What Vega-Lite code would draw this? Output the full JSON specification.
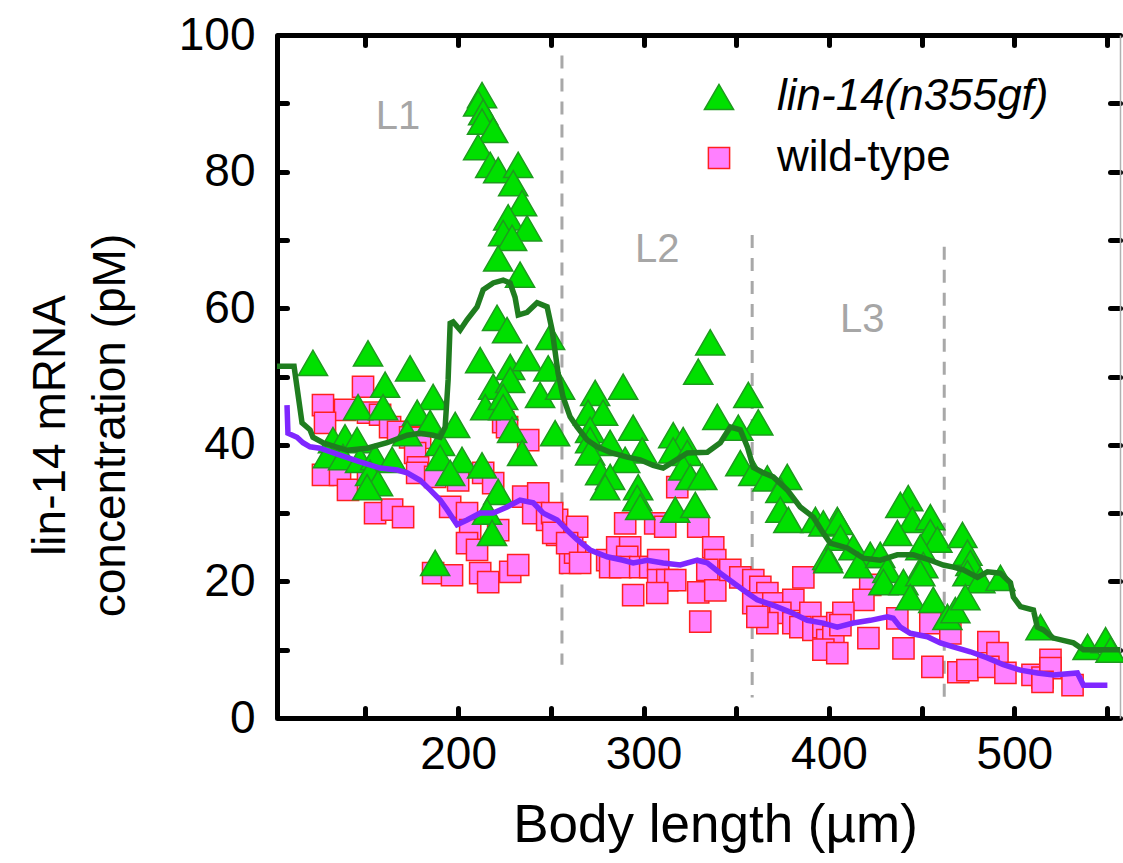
{
  "$schema": "https://vega.github.io/schema/vega-lite/v6.json",
  "width": 843,
  "height": 683,
  "autosize": "none",
  "padding": {"left": 277, "top": 35, "right": 3, "bottom": 145},
  "background": "white",
  "config": {
    "font": "Liberation Sans",
    "view": {"stroke": null}
  },
  "datasets": {
    "pts": [
      {"x": 148.7, "y": 48.5, "strain": "wild-type"},
      {"x": 127.1, "y": 45.8, "strain": "wild-type"},
      {"x": 139.0, "y": 45.1, "strain": "wild-type"},
      {"x": 128.2, "y": 43.2, "strain": "wild-type"},
      {"x": 151.4, "y": 44.7, "strain": "wild-type"},
      {"x": 157.9, "y": 44.4, "strain": "wild-type"},
      {"x": 163.3, "y": 42.6, "strain": "wild-type"},
      {"x": 167.6, "y": 41.9, "strain": "wild-type"},
      {"x": 174.1, "y": 41.1, "strain": "wild-type"},
      {"x": 179.5, "y": 41.0, "strain": "wild-type"},
      {"x": 176.8, "y": 38.8, "strain": "wild-type"},
      {"x": 127.1, "y": 35.6, "strain": "wild-type"},
      {"x": 136.3, "y": 35.6, "strain": "wild-type"},
      {"x": 140.6, "y": 33.4, "strain": "wild-type"},
      {"x": 151.4, "y": 34.6, "strain": "wild-type"},
      {"x": 155.2, "y": 30.0, "strain": "wild-type"},
      {"x": 164.4, "y": 30.5, "strain": "wild-type"},
      {"x": 170.3, "y": 29.4, "strain": "wild-type"},
      {"x": 178.4, "y": 36.7, "strain": "wild-type"},
      {"x": 177.9, "y": 35.9, "strain": "wild-type"},
      {"x": 187.6, "y": 35.3, "strain": "wild-type"},
      {"x": 200.0, "y": 34.8, "strain": "wild-type"},
      {"x": 213.5, "y": 35.9, "strain": "wild-type"},
      {"x": 218.9, "y": 34.4, "strain": "wild-type"},
      {"x": 195.7, "y": 30.9, "strain": "wild-type"},
      {"x": 204.8, "y": 30.0, "strain": "wild-type"},
      {"x": 206.5, "y": 27.5, "strain": "wild-type"},
      {"x": 204.8, "y": 25.6, "strain": "wild-type"},
      {"x": 210.2, "y": 24.6, "strain": "wild-type"},
      {"x": 221.6, "y": 27.5, "strain": "wild-type"},
      {"x": 186.5, "y": 21.2, "strain": "wild-type"},
      {"x": 196.7, "y": 20.9, "strain": "wild-type"},
      {"x": 211.9, "y": 21.2, "strain": "wild-type"},
      {"x": 216.2, "y": 19.9, "strain": "wild-type"},
      {"x": 228.1, "y": 21.4, "strain": "wild-type"},
      {"x": 232.4, "y": 22.4, "strain": "wild-type"},
      {"x": 224.3, "y": 43.3, "strain": "wild-type"},
      {"x": 226.4, "y": 42.6, "strain": "wild-type"},
      {"x": 237.8, "y": 40.7, "strain": "wild-type"},
      {"x": 235.1, "y": 32.4, "strain": "wild-type"},
      {"x": 243.2, "y": 32.9, "strain": "wild-type"},
      {"x": 240.5, "y": 30.0, "strain": "wild-type"},
      {"x": 248.0, "y": 29.0, "strain": "wild-type"},
      {"x": 253.4, "y": 29.0, "strain": "wild-type"},
      {"x": 253.4, "y": 26.8, "strain": "wild-type"},
      {"x": 261.5, "y": 25.6, "strain": "wild-type"},
      {"x": 260.4, "y": 22.7, "strain": "wild-type"},
      {"x": 263.1, "y": 24.2, "strain": "wild-type"},
      {"x": 250.7, "y": 30.0, "strain": "wild-type"},
      {"x": 264.2, "y": 28.0, "strain": "wild-type"},
      {"x": 251.3, "y": 27.1, "strain": "wild-type"},
      {"x": 258.8, "y": 25.6, "strain": "wild-type"},
      {"x": 265.8, "y": 22.7, "strain": "wild-type"},
      {"x": 280.4, "y": 23.1, "strain": "wild-type"},
      {"x": 285.8, "y": 25.0, "strain": "wild-type"},
      {"x": 292.8, "y": 25.0, "strain": "wild-type"},
      {"x": 291.2, "y": 23.6, "strain": "wild-type"},
      {"x": 282.0, "y": 22.1, "strain": "wild-type"},
      {"x": 287.4, "y": 22.1, "strain": "wild-type"},
      {"x": 298.2, "y": 22.1, "strain": "wild-type"},
      {"x": 303.6, "y": 22.1, "strain": "wild-type"},
      {"x": 307.9, "y": 23.1, "strain": "wild-type"},
      {"x": 290.1, "y": 28.5, "strain": "wild-type"},
      {"x": 306.3, "y": 28.5, "strain": "wild-type"},
      {"x": 311.7, "y": 28.0, "strain": "wild-type"},
      {"x": 318.2, "y": 33.8, "strain": "wild-type"},
      {"x": 329.5, "y": 28.0, "strain": "wild-type"},
      {"x": 337.6, "y": 25.0, "strain": "wild-type"},
      {"x": 338.7, "y": 23.1, "strain": "wild-type"},
      {"x": 334.4, "y": 21.7, "strain": "wild-type"},
      {"x": 307.9, "y": 20.2, "strain": "wild-type"},
      {"x": 312.8, "y": 20.2, "strain": "wild-type"},
      {"x": 317.1, "y": 20.2, "strain": "wild-type"},
      {"x": 307.4, "y": 18.3, "strain": "wild-type"},
      {"x": 294.4, "y": 18.0, "strain": "wild-type"},
      {"x": 329.5, "y": 18.4, "strain": "wild-type"},
      {"x": 338.7, "y": 18.7, "strain": "wild-type"},
      {"x": 330.6, "y": 14.1, "strain": "wild-type"},
      {"x": 346.8, "y": 21.7, "strain": "wild-type"},
      {"x": 352.2, "y": 20.6, "strain": "wild-type"},
      {"x": 359.2, "y": 20.2, "strain": "wild-type"},
      {"x": 363.0, "y": 19.2, "strain": "wild-type"},
      {"x": 366.8, "y": 18.3, "strain": "wild-type"},
      {"x": 359.2, "y": 16.8, "strain": "wild-type"},
      {"x": 370.0, "y": 16.8, "strain": "wild-type"},
      {"x": 386.2, "y": 20.6, "strain": "wild-type"},
      {"x": 380.8, "y": 17.3, "strain": "wild-type"},
      {"x": 373.8, "y": 15.4, "strain": "wild-type"},
      {"x": 366.8, "y": 13.9, "strain": "wild-type"},
      {"x": 361.4, "y": 14.8, "strain": "wild-type"},
      {"x": 380.8, "y": 13.9, "strain": "wild-type"},
      {"x": 390.0, "y": 15.4, "strain": "wild-type"},
      {"x": 384.6, "y": 13.3, "strain": "wild-type"},
      {"x": 391.6, "y": 12.9, "strain": "wild-type"},
      {"x": 397.0, "y": 13.3, "strain": "wild-type"},
      {"x": 399.1, "y": 11.4, "strain": "wild-type"},
      {"x": 404.5, "y": 13.9, "strain": "wild-type"},
      {"x": 402.4, "y": 11.9, "strain": "wild-type"},
      {"x": 397.0, "y": 10.0, "strain": "wild-type"},
      {"x": 404.5, "y": 9.5, "strain": "wild-type"},
      {"x": 422.3, "y": 19.5, "strain": "wild-type"},
      {"x": 418.6, "y": 17.3, "strain": "wild-type"},
      {"x": 407.8, "y": 15.4, "strain": "wild-type"},
      {"x": 406.2, "y": 13.6, "strain": "wild-type"},
      {"x": 421.3, "y": 11.7, "strain": "wild-type"},
      {"x": 436.9, "y": 14.6, "strain": "wild-type"},
      {"x": 440.2, "y": 10.2, "strain": "wild-type"},
      {"x": 454.7, "y": 13.9, "strain": "wild-type"},
      {"x": 465.5, "y": 12.4, "strain": "wild-type"},
      {"x": 455.8, "y": 7.5, "strain": "wild-type"},
      {"x": 469.8, "y": 6.7, "strain": "wild-type"},
      {"x": 474.7, "y": 7.0, "strain": "wild-type"},
      {"x": 486.0, "y": 11.1, "strain": "wild-type"},
      {"x": 490.9, "y": 9.5, "strain": "wild-type"},
      {"x": 486.0, "y": 7.5, "strain": "wild-type"},
      {"x": 495.2, "y": 6.6, "strain": "wild-type"},
      {"x": 509.8, "y": 6.3, "strain": "wild-type"},
      {"x": 515.2, "y": 5.9, "strain": "wild-type"},
      {"x": 519.5, "y": 8.5, "strain": "wild-type"},
      {"x": 519.5, "y": 7.3, "strain": "wild-type"},
      {"x": 515.2, "y": 5.3, "strain": "wild-type"},
      {"x": 531.4, "y": 4.8, "strain": "wild-type"},
      {"x": 212.9, "y": 91.2, "strain": "lin-14(n355gf)"},
      {"x": 210.8, "y": 90.0, "strain": "lin-14(n355gf)"},
      {"x": 213.5, "y": 88.7, "strain": "lin-14(n355gf)"},
      {"x": 212.9, "y": 87.3, "strain": "lin-14(n355gf)"},
      {"x": 218.9, "y": 86.1, "strain": "lin-14(n355gf)"},
      {"x": 210.8, "y": 83.6, "strain": "lin-14(n355gf)"},
      {"x": 217.3, "y": 81.0, "strain": "lin-14(n355gf)"},
      {"x": 221.6, "y": 80.2, "strain": "lin-14(n355gf)"},
      {"x": 232.4, "y": 81.0, "strain": "lin-14(n355gf)"},
      {"x": 229.7, "y": 78.3, "strain": "lin-14(n355gf)"},
      {"x": 234.5, "y": 75.4, "strain": "lin-14(n355gf)"},
      {"x": 227.0, "y": 73.3, "strain": "lin-14(n355gf)"},
      {"x": 237.2, "y": 71.7, "strain": "lin-14(n355gf)"},
      {"x": 224.3, "y": 71.0, "strain": "lin-14(n355gf)"},
      {"x": 229.1, "y": 70.3, "strain": "lin-14(n355gf)"},
      {"x": 221.6, "y": 67.3, "strain": "lin-14(n355gf)"},
      {"x": 233.4, "y": 64.9, "strain": "lin-14(n355gf)"},
      {"x": 121.7, "y": 52.0, "strain": "lin-14(n355gf)"},
      {"x": 151.4, "y": 53.4, "strain": "lin-14(n355gf)"},
      {"x": 174.1, "y": 51.2, "strain": "lin-14(n355gf)"},
      {"x": 160.6, "y": 48.8, "strain": "lin-14(n355gf)"},
      {"x": 146.0, "y": 45.5, "strain": "lin-14(n355gf)"},
      {"x": 159.5, "y": 45.5, "strain": "lin-14(n355gf)"},
      {"x": 186.5, "y": 47.0, "strain": "lin-14(n355gf)"},
      {"x": 177.9, "y": 44.7, "strain": "lin-14(n355gf)"},
      {"x": 184.9, "y": 43.2, "strain": "lin-14(n355gf)"},
      {"x": 132.5, "y": 40.7, "strain": "lin-14(n355gf)"},
      {"x": 139.0, "y": 41.1, "strain": "lin-14(n355gf)"},
      {"x": 145.5, "y": 40.7, "strain": "lin-14(n355gf)"},
      {"x": 129.8, "y": 38.5, "strain": "lin-14(n355gf)"},
      {"x": 137.9, "y": 38.2, "strain": "lin-14(n355gf)"},
      {"x": 147.1, "y": 37.8, "strain": "lin-14(n355gf)"},
      {"x": 155.2, "y": 38.2, "strain": "lin-14(n355gf)"},
      {"x": 164.4, "y": 37.8, "strain": "lin-14(n355gf)"},
      {"x": 152.5, "y": 35.9, "strain": "lin-14(n355gf)"},
      {"x": 156.8, "y": 34.4, "strain": "lin-14(n355gf)"},
      {"x": 150.9, "y": 33.8, "strain": "lin-14(n355gf)"},
      {"x": 172.5, "y": 41.7, "strain": "lin-14(n355gf)"},
      {"x": 190.3, "y": 40.3, "strain": "lin-14(n355gf)"},
      {"x": 198.4, "y": 42.9, "strain": "lin-14(n355gf)"},
      {"x": 190.3, "y": 38.1, "strain": "lin-14(n355gf)"},
      {"x": 202.1, "y": 37.8, "strain": "lin-14(n355gf)"},
      {"x": 195.7, "y": 35.9, "strain": "lin-14(n355gf)"},
      {"x": 212.9, "y": 37.0, "strain": "lin-14(n355gf)"},
      {"x": 221.6, "y": 33.1, "strain": "lin-14(n355gf)"},
      {"x": 215.6, "y": 30.2, "strain": "lin-14(n355gf)"},
      {"x": 218.3, "y": 27.1, "strain": "lin-14(n355gf)"},
      {"x": 187.6, "y": 22.7, "strain": "lin-14(n355gf)"},
      {"x": 221.0, "y": 58.6, "strain": "lin-14(n355gf)"},
      {"x": 226.4, "y": 56.8, "strain": "lin-14(n355gf)"},
      {"x": 211.9, "y": 52.4, "strain": "lin-14(n355gf)"},
      {"x": 228.1, "y": 51.4, "strain": "lin-14(n355gf)"},
      {"x": 237.2, "y": 52.7, "strain": "lin-14(n355gf)"},
      {"x": 248.6, "y": 51.2, "strain": "lin-14(n355gf)"},
      {"x": 218.9, "y": 48.5, "strain": "lin-14(n355gf)"},
      {"x": 228.1, "y": 49.5, "strain": "lin-14(n355gf)"},
      {"x": 214.6, "y": 45.5, "strain": "lin-14(n355gf)"},
      {"x": 224.3, "y": 47.0, "strain": "lin-14(n355gf)"},
      {"x": 224.3, "y": 45.5, "strain": "lin-14(n355gf)"},
      {"x": 244.2, "y": 47.3, "strain": "lin-14(n355gf)"},
      {"x": 255.0, "y": 48.5, "strain": "lin-14(n355gf)"},
      {"x": 249.6, "y": 55.8, "strain": "lin-14(n355gf)"},
      {"x": 229.1, "y": 42.2, "strain": "lin-14(n355gf)"},
      {"x": 234.5, "y": 38.8, "strain": "lin-14(n355gf)"},
      {"x": 252.3, "y": 41.7, "strain": "lin-14(n355gf)"},
      {"x": 273.9, "y": 47.6, "strain": "lin-14(n355gf)"},
      {"x": 270.1, "y": 44.7, "strain": "lin-14(n355gf)"},
      {"x": 278.2, "y": 44.7, "strain": "lin-14(n355gf)"},
      {"x": 289.0, "y": 48.5, "strain": "lin-14(n355gf)"},
      {"x": 271.2, "y": 42.2, "strain": "lin-14(n355gf)"},
      {"x": 271.2, "y": 40.7, "strain": "lin-14(n355gf)"},
      {"x": 282.0, "y": 40.3, "strain": "lin-14(n355gf)"},
      {"x": 271.2, "y": 38.9, "strain": "lin-14(n355gf)"},
      {"x": 294.4, "y": 42.5, "strain": "lin-14(n355gf)"},
      {"x": 299.3, "y": 39.2, "strain": "lin-14(n355gf)"},
      {"x": 290.1, "y": 37.8, "strain": "lin-14(n355gf)"},
      {"x": 276.6, "y": 36.0, "strain": "lin-14(n355gf)"},
      {"x": 282.0, "y": 35.3, "strain": "lin-14(n355gf)"},
      {"x": 279.3, "y": 33.8, "strain": "lin-14(n355gf)"},
      {"x": 297.1, "y": 33.8, "strain": "lin-14(n355gf)"},
      {"x": 296.6, "y": 32.2, "strain": "lin-14(n355gf)"},
      {"x": 298.2, "y": 30.9, "strain": "lin-14(n355gf)"},
      {"x": 316.0, "y": 41.4, "strain": "lin-14(n355gf)"},
      {"x": 321.4, "y": 40.7, "strain": "lin-14(n355gf)"},
      {"x": 316.0, "y": 39.2, "strain": "lin-14(n355gf)"},
      {"x": 323.6, "y": 38.8, "strain": "lin-14(n355gf)"},
      {"x": 321.4, "y": 36.7, "strain": "lin-14(n355gf)"},
      {"x": 325.2, "y": 35.3, "strain": "lin-14(n355gf)"},
      {"x": 331.7, "y": 35.3, "strain": "lin-14(n355gf)"},
      {"x": 317.1, "y": 30.5, "strain": "lin-14(n355gf)"},
      {"x": 327.9, "y": 31.2, "strain": "lin-14(n355gf)"},
      {"x": 336.0, "y": 55.0, "strain": "lin-14(n355gf)"},
      {"x": 329.5, "y": 50.7, "strain": "lin-14(n355gf)"},
      {"x": 356.5, "y": 47.3, "strain": "lin-14(n355gf)"},
      {"x": 361.9, "y": 43.3, "strain": "lin-14(n355gf)"},
      {"x": 339.8, "y": 44.1, "strain": "lin-14(n355gf)"},
      {"x": 351.1, "y": 42.5, "strain": "lin-14(n355gf)"},
      {"x": 352.2, "y": 37.3, "strain": "lin-14(n355gf)"},
      {"x": 359.2, "y": 35.9, "strain": "lin-14(n355gf)"},
      {"x": 366.8, "y": 35.1, "strain": "lin-14(n355gf)"},
      {"x": 377.5, "y": 35.3, "strain": "lin-14(n355gf)"},
      {"x": 373.8, "y": 33.4, "strain": "lin-14(n355gf)"},
      {"x": 373.8, "y": 30.5, "strain": "lin-14(n355gf)"},
      {"x": 378.1, "y": 29.0, "strain": "lin-14(n355gf)"},
      {"x": 392.7, "y": 29.0, "strain": "lin-14(n355gf)"},
      {"x": 404.5, "y": 29.0, "strain": "lin-14(n355gf)"},
      {"x": 399.1, "y": 23.6, "strain": "lin-14(n355gf)"},
      {"x": 397.0, "y": 28.5, "strain": "lin-14(n355gf)"},
      {"x": 405.1, "y": 28.7, "strain": "lin-14(n355gf)"},
      {"x": 406.2, "y": 26.4, "strain": "lin-14(n355gf)"},
      {"x": 399.7, "y": 23.1, "strain": "lin-14(n355gf)"},
      {"x": 413.2, "y": 25.0, "strain": "lin-14(n355gf)"},
      {"x": 422.3, "y": 23.9, "strain": "lin-14(n355gf)"},
      {"x": 415.9, "y": 22.4, "strain": "lin-14(n355gf)"},
      {"x": 427.7, "y": 23.9, "strain": "lin-14(n355gf)"},
      {"x": 442.8, "y": 32.2, "strain": "lin-14(n355gf)"},
      {"x": 438.5, "y": 31.2, "strain": "lin-14(n355gf)"},
      {"x": 445.0, "y": 29.0, "strain": "lin-14(n355gf)"},
      {"x": 436.9, "y": 27.1, "strain": "lin-14(n355gf)"},
      {"x": 454.7, "y": 29.4, "strain": "lin-14(n355gf)"},
      {"x": 454.7, "y": 27.2, "strain": "lin-14(n355gf)"},
      {"x": 458.5, "y": 26.1, "strain": "lin-14(n355gf)"},
      {"x": 449.3, "y": 25.0, "strain": "lin-14(n355gf)"},
      {"x": 431.5, "y": 21.7, "strain": "lin-14(n355gf)"},
      {"x": 429.4, "y": 19.9, "strain": "lin-14(n355gf)"},
      {"x": 440.2, "y": 19.9, "strain": "lin-14(n355gf)"},
      {"x": 450.9, "y": 22.4, "strain": "lin-14(n355gf)"},
      {"x": 449.3, "y": 21.2, "strain": "lin-14(n355gf)"},
      {"x": 443.9, "y": 17.7, "strain": "lin-14(n355gf)"},
      {"x": 456.3, "y": 17.3, "strain": "lin-14(n355gf)"},
      {"x": 463.9, "y": 14.8, "strain": "lin-14(n355gf)"},
      {"x": 468.2, "y": 15.8, "strain": "lin-14(n355gf)"},
      {"x": 472.0, "y": 26.8, "strain": "lin-14(n355gf)"},
      {"x": 474.7, "y": 24.2, "strain": "lin-14(n355gf)"},
      {"x": 476.3, "y": 22.7, "strain": "lin-14(n355gf)"},
      {"x": 474.7, "y": 21.2, "strain": "lin-14(n355gf)"},
      {"x": 481.7, "y": 20.2, "strain": "lin-14(n355gf)"},
      {"x": 492.5, "y": 20.5, "strain": "lin-14(n355gf)"},
      {"x": 473.6, "y": 17.7, "strain": "lin-14(n355gf)"},
      {"x": 514.1, "y": 13.3, "strain": "lin-14(n355gf)"},
      {"x": 539.5, "y": 10.4, "strain": "lin-14(n355gf)"},
      {"x": 549.2, "y": 11.4, "strain": "lin-14(n355gf)"},
      {"x": 551.9, "y": 10.0, "strain": "lin-14(n355gf)"}
    ],
    "gline": [
      {"x": 102.3, "y": 51.5}, {"x": 111.5, "y": 51.5}, {"x": 115.8, "y": 43.2}, {"x": 120.1, "y": 42.2},
      {"x": 121.7, "y": 41.1}, {"x": 127.1, "y": 40.3}, {"x": 140.1, "y": 39.2}, {"x": 150.9, "y": 39.5},
      {"x": 161.7, "y": 40.3}, {"x": 172.5, "y": 41.4}, {"x": 179.5, "y": 41.7}, {"x": 186.5, "y": 41.4},
      {"x": 190.3, "y": 41.1}, {"x": 193.0, "y": 42.6}, {"x": 194.6, "y": 49.5}, {"x": 195.7, "y": 57.8},
      {"x": 197.3, "y": 58.0}, {"x": 201.1, "y": 56.8}, {"x": 204.8, "y": 58.3}, {"x": 210.2, "y": 60.2},
      {"x": 213.5, "y": 62.7}, {"x": 218.9, "y": 63.7}, {"x": 224.3, "y": 64.1}, {"x": 228.0, "y": 63.7},
      {"x": 230.7, "y": 61.6}, {"x": 232.4, "y": 59.0}, {"x": 237.2, "y": 59.4}, {"x": 242.6, "y": 60.8},
      {"x": 248.0, "y": 60.2}, {"x": 250.7, "y": 56.8}, {"x": 253.9, "y": 50.5}, {"x": 256.6, "y": 47.0},
      {"x": 260.4, "y": 44.1}, {"x": 264.2, "y": 42.6}, {"x": 269.6, "y": 40.7}, {"x": 275.0, "y": 39.7},
      {"x": 282.0, "y": 38.9}, {"x": 291.2, "y": 38.2}, {"x": 298.2, "y": 37.8}, {"x": 305.2, "y": 37.0},
      {"x": 310.6, "y": 36.6}, {"x": 316.0, "y": 37.5}, {"x": 323.6, "y": 38.8}, {"x": 334.4, "y": 38.9},
      {"x": 341.4, "y": 40.3}, {"x": 346.8, "y": 42.6}, {"x": 352.2, "y": 42.2}, {"x": 356.0, "y": 39.7},
      {"x": 359.2, "y": 36.7}, {"x": 364.6, "y": 35.9}, {"x": 370.0, "y": 35.3}, {"x": 377.5, "y": 33.4},
      {"x": 384.5, "y": 30.9}, {"x": 391.6, "y": 29.4}, {"x": 396.9, "y": 27.1}, {"x": 400.7, "y": 25.6},
      {"x": 409.9, "y": 24.9}, {"x": 418.5, "y": 23.4}, {"x": 427.7, "y": 23.1}, {"x": 436.9, "y": 23.9},
      {"x": 445.5, "y": 23.9}, {"x": 454.7, "y": 23.1}, {"x": 461.7, "y": 22.4}, {"x": 467.1, "y": 22.1},
      {"x": 472.5, "y": 21.7}, {"x": 480.1, "y": 20.6}, {"x": 485.5, "y": 21.4}, {"x": 492.5, "y": 21.2},
      {"x": 497.9, "y": 19.8}, {"x": 499.5, "y": 17.7}, {"x": 503.3, "y": 16.3}, {"x": 510.3, "y": 15.8},
      {"x": 512.4, "y": 13.3}, {"x": 515.7, "y": 12.9}, {"x": 521.1, "y": 11.7}, {"x": 531.9, "y": 11.0},
      {"x": 537.3, "y": 10.0}, {"x": 544.8, "y": 10.0}, {"x": 557.0, "y": 10.0}
    ],
    "pline": [
      {"x": 107.7, "y": 45.8}, {"x": 108.2, "y": 41.7}, {"x": 113.1, "y": 41.1}, {"x": 116.3, "y": 40.3},
      {"x": 120.1, "y": 39.7}, {"x": 125.5, "y": 39.5}, {"x": 136.3, "y": 38.5}, {"x": 147.1, "y": 37.5},
      {"x": 157.9, "y": 36.6}, {"x": 167.1, "y": 36.3}, {"x": 172.5, "y": 35.9}, {"x": 179.5, "y": 34.8},
      {"x": 184.9, "y": 33.4}, {"x": 190.3, "y": 31.9}, {"x": 194.0, "y": 30.5}, {"x": 199.4, "y": 28.3},
      {"x": 204.8, "y": 29.0}, {"x": 211.9, "y": 30.0}, {"x": 218.9, "y": 30.0}, {"x": 226.4, "y": 30.9},
      {"x": 233.4, "y": 31.9}, {"x": 240.5, "y": 31.5}, {"x": 245.9, "y": 30.0}, {"x": 253.4, "y": 29.0},
      {"x": 258.8, "y": 27.5}, {"x": 264.2, "y": 26.1}, {"x": 271.2, "y": 24.6}, {"x": 280.4, "y": 23.6},
      {"x": 289.0, "y": 23.1}, {"x": 294.4, "y": 22.7}, {"x": 302.0, "y": 23.1}, {"x": 310.6, "y": 22.7},
      {"x": 319.8, "y": 22.4}, {"x": 329.0, "y": 23.1}, {"x": 334.4, "y": 22.7}, {"x": 341.4, "y": 21.2},
      {"x": 348.4, "y": 19.8}, {"x": 356.0, "y": 18.3}, {"x": 361.3, "y": 17.3}, {"x": 370.0, "y": 16.5},
      {"x": 379.1, "y": 15.5}, {"x": 388.3, "y": 14.3}, {"x": 396.9, "y": 13.9}, {"x": 404.5, "y": 13.3},
      {"x": 413.1, "y": 13.9}, {"x": 422.3, "y": 14.3}, {"x": 431.5, "y": 14.8}, {"x": 434.7, "y": 14.6},
      {"x": 438.5, "y": 13.3}, {"x": 443.9, "y": 12.4}, {"x": 453.1, "y": 11.9}, {"x": 460.1, "y": 11.0},
      {"x": 467.1, "y": 10.4}, {"x": 476.3, "y": 9.7}, {"x": 485.5, "y": 8.8}, {"x": 494.1, "y": 7.8},
      {"x": 503.3, "y": 7.0}, {"x": 512.4, "y": 6.6}, {"x": 521.1, "y": 6.3}, {"x": 534.0, "y": 6.6},
      {"x": 537.3, "y": 4.8}, {"x": 550.2, "y": 4.8}
    ],
    "rules": [
      {"x": 256.0, "y": 97.0, "y2": 7.8},
      {"x": 358.6, "y": 70.7, "y2": 3.0},
      {"x": 462.2, "y": 69.0, "y2": 2.8}
    ],
    "stages": [
      {"x": 167.6, "y": 88.0, "label": "L1"},
      {"x": 307.4, "y": 68.5, "label": "L2"},
      {"x": 418.0, "y": 58.3, "label": "L3"}
    ]
  },
  "resolve": {"axis": {"x": "independent", "y": "independent"}},
  "layer": [
    {
      "data": {"name": "rules"},
      "mark": {"type": "rule", "color": "#a8a8a8", "strokeWidth": 3, "strokeDash": [13, 10]},
      "encoding": {
        "x": {"field": "x", "type": "quantitative", "scale": {"domain": [102.3, 557], "nice": false, "zero": false},
          "axis": {"orient": "top", "values": [150, 200, 250, 300, 350, 400, 450, 500, 550], "labels": false, "title": null,
            "domainColor": "black", "domainWidth": 5, "tickColor": "black", "tickWidth": 5, "tickCap": "round", "tickSize": -10, "grid": false}},
        "y": {"field": "y", "type": "quantitative", "scale": {"domain": [0, 100], "nice": false, "zero": false},
          "axis": {"orient": "right", "values": [0, 10, 20, 30, 40, 50, 60, 70, 80, 90, 100], "labels": false, "title": null,
            "domainColor": "#b0b0b0", "domainWidth": 1.5, "tickColor": "black", "tickWidth": 5, "tickCap": "round", "tickSize": -10, "grid": false}},
        "y2": {"field": "y2"}
      }
    },
    {
      "data": {"name": "stages"},
      "mark": {"type": "text", "fontSize": 40, "color": "#a6a6a6", "font": "Liberation Sans"},
      "encoding": {
        "x": {"field": "x", "type": "quantitative", "axis": null},
        "y": {"field": "y", "type": "quantitative", "axis": null},
        "text": {"field": "label"}
      }
    },
    {
      "data": {"name": "pts"},
      "mark": {"type": "point", "filled": true, "strokeWidth": 1.5, "opacity": 1},
      "encoding": {
        "x": {"field": "x", "type": "quantitative",
          "axis": {"orient": "bottom", "values": [150, 200, 250, 300, 350, 400, 450, 500, 550],
            "labelExpr": "datum.value % 100 === 0 ? datum.label : ''",
            "title": "Body length (µm)", "titleFontSize": 53, "titleFontWeight": "normal", "titleColor": "black", "titlePadding": 22, "titleX": 438,
            "labelFontSize": 46, "labelColor": "black", "labelPadding": 24,
            "domainColor": "black", "domainWidth": 5, "tickColor": "black", "tickWidth": 5, "tickCap": "round", "tickSize": -10, "grid": false}},
        "y": {"field": "y", "type": "quantitative",
          "axis": {"orient": "left", "values": [0, 10, 20, 30, 40, 50, 60, 70, 80, 90, 100],
            "labelExpr": "datum.value % 20 === 0 ? datum.label : ''",
            "title": ["lin-14 mRNA", "concentration (pM)"], "titleFontSize": 46, "titleFontWeight": "normal", "titleColor": "black", "titlePadding": 44, "titleLineHeight": 60, "titleY": 390,
            "labelFontSize": 46, "labelColor": "black", "labelPadding": 32,
            "domainColor": "black", "domainWidth": 5, "tickColor": "black", "tickWidth": 5, "tickCap": "round", "tickSize": -10, "grid": false}},
        "shape": {"field": "strain", "type": "nominal", "scale": {"domain": ["lin-14(n355gf)", "wild-type"], "range": ["triangle-up", "square"]},
          "legend": {"orient": "none", "legendX": 420, "legendY": 40, "title": null, "labelFontSize": 44, "labelColor": "black", "labelLimit": 0,
            "labelOffset": 36, "rowPadding": 17, "symbolStrokeWidth": 1.5, "padding": 0,
            "labelFontStyle": {"expr": "datum.label === 'wild-type' ? 'normal' : 'italic'"}}},
        "fill": {"field": "strain", "type": "nominal", "scale": {"domain": ["lin-14(n355gf)", "wild-type"], "range": ["#00e000", "#ff80ff"]}},
        "stroke": {"field": "strain", "type": "nominal", "scale": {"domain": ["lin-14(n355gf)", "wild-type"], "range": ["#1e9a1e", "#ff2020"]}},
        "size": {"field": "strain", "type": "nominal", "scale": {"domain": ["lin-14(n355gf)", "wild-type"], "range": [850, 450]}}
      }
    },
    {
      "data": {"name": "pline"},
      "mark": {"type": "line", "color": "#7f27ff", "strokeWidth": 5.5},
      "encoding": {
        "x": {"field": "x", "type": "quantitative", "axis": null},
        "y": {"field": "y", "type": "quantitative", "axis": null}
      }
    },
    {
      "data": {"name": "gline"},
      "mark": {"type": "line", "color": "#1f7d1f", "strokeWidth": 5.5},
      "encoding": {
        "x": {"field": "x", "type": "quantitative", "axis": null},
        "y": {"field": "y", "type": "quantitative", "axis": null}
      }
    }
  ]
}
